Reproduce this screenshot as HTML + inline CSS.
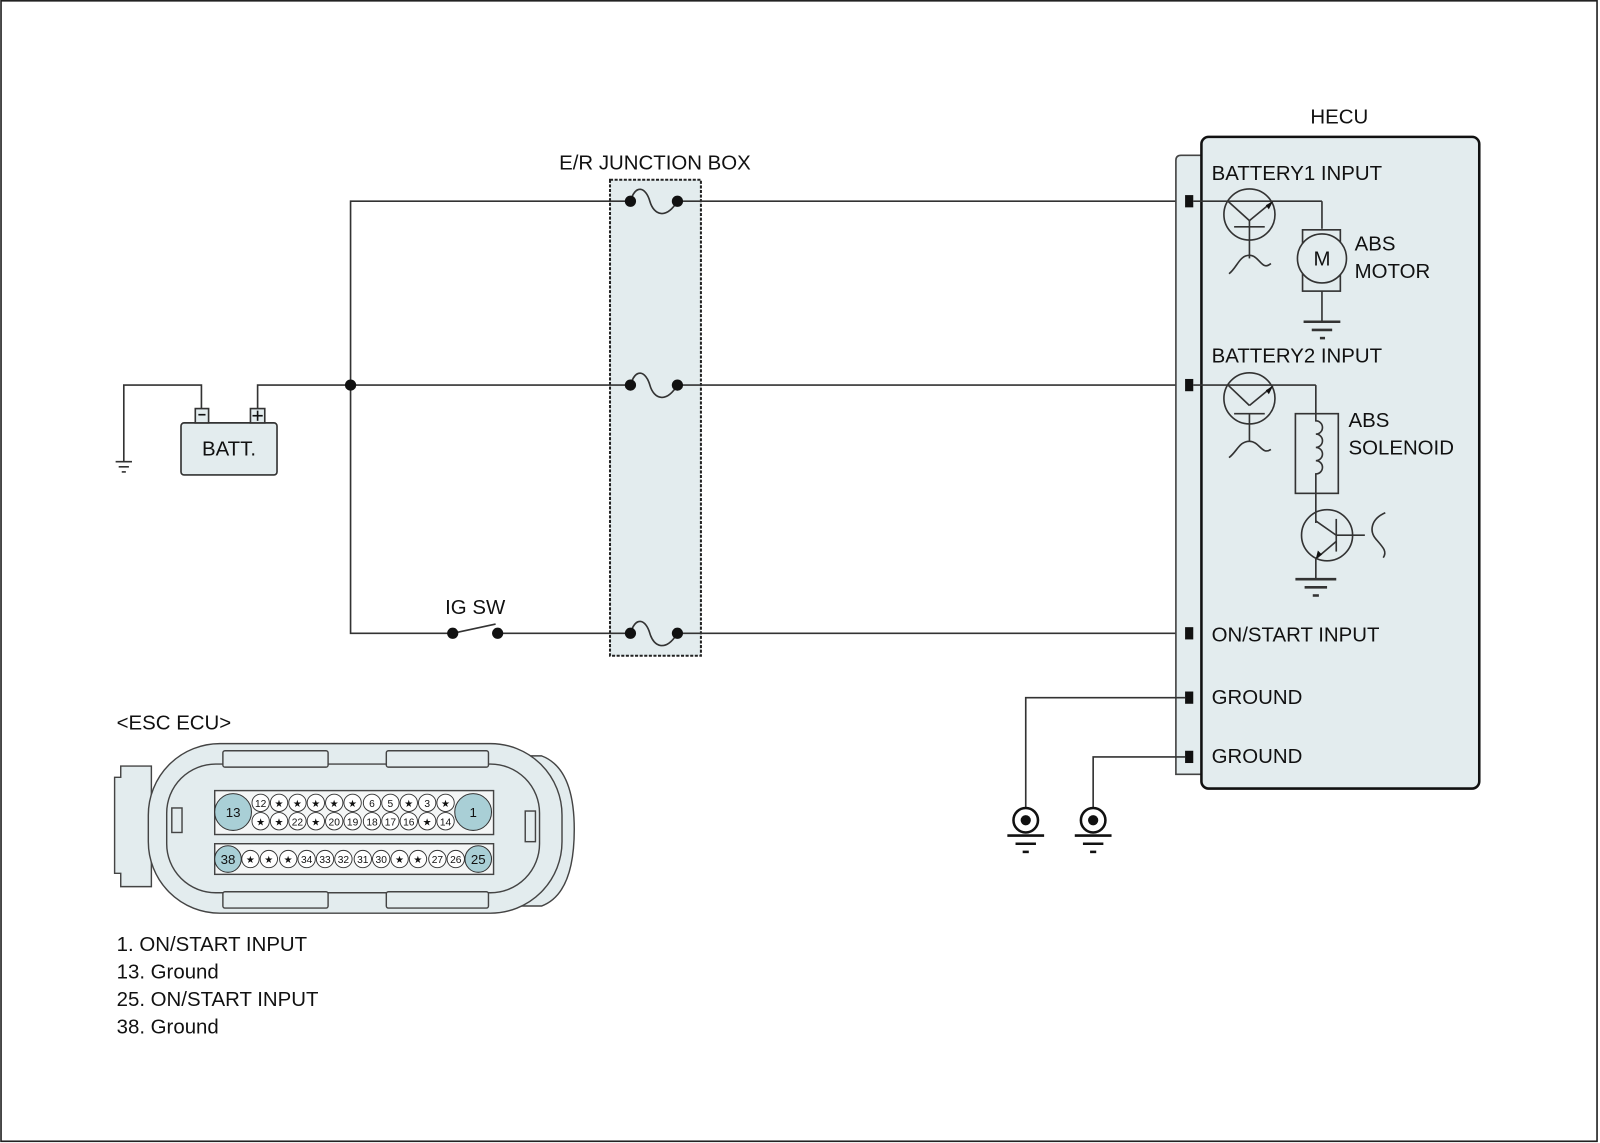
<!DOCTYPE html>
<html><head><meta charset="utf-8"><style>
html,body{margin:0;padding:0;background:#fff}
svg{display:block}
text{font-family:"Liberation Sans",Arial,sans-serif;fill:#111}
</style></head><body>
<svg width="1600" height="1143" viewBox="0 0 1566 1119" xmlns="http://www.w3.org/2000/svg">
<rect x="0.8" y="0.8" width="1562.5" height="1116.5" fill="#fff" stroke="#222" stroke-width="1.6"/>
<g stroke="#333" stroke-width="1.6" fill="none">
<rect x="597" y="176" width="89" height="466" fill="#e3ecee" stroke="#222" stroke-width="2" stroke-dasharray="3,1.5"/>
<polyline points="617,197 343,197 343,620 443,620"/>
<polyline points="197,400 197,377 121,377 121,452"/>
<polyline points="252,400 252,377 617,377"/>
<line x1="663" y1="197" x2="1160" y2="197"/>
<line x1="663" y1="377" x2="1160" y2="377"/>
<line x1="487" y1="620" x2="617" y2="620"/>
<line x1="663" y1="620" x2="1160" y2="620"/>
<line x1="443" y1="620" x2="485" y2="611"/>
<path d="M617,197 C622,180 632,183 636,197 S652,215 663,197"/>
<path d="M617,377 C622,360 632,363 636,377 S652,395 663,377"/>
<path d="M617,620 C622,603 632,606 636,620 S652,638 663,620"/>
<line x1="113" y1="452" x2="129" y2="452"/>
<line x1="116" y1="457" x2="126" y2="457"/>
<line x1="119" y1="462" x2="123" y2="462"/>
<rect x="177" y="414" width="94" height="51" rx="3" fill="#e3ecee" stroke="#333"/>
<rect x="191" y="400" width="13" height="14" fill="#e3ecee"/>
<rect x="245" y="400" width="14" height="14" fill="#e3ecee"/>
<path d="M1176,152 L1156,152 Q1151,152 1151,157 L1151,758 L1176,758" fill="#e3ecee" stroke="#444"/>
<rect x="1176" y="134" width="272" height="638" rx="7" fill="#e3ecee" stroke="#111" stroke-width="2.5"/>
<line x1="1168" y1="197" x2="1294" y2="197"/>
<line x1="1294" y1="197" x2="1294" y2="224"/>
<line x1="1168" y1="377" x2="1288" y2="377"/>
<circle cx="1223" cy="210" r="25"/>
<line x1="1202" y1="197" x2="1223" y2="216"/>
<line x1="1223" y1="216" x2="1246" y2="197"/>
<line x1="1208" y1="222" x2="1238" y2="222"/>
<line x1="1223" y1="216" x2="1223" y2="253"/>
<path d="M1203,268 C1211,262 1213,250 1223,250 S1235,266 1244,258"/>
<rect x="1275" y="225" width="37" height="60"/>
<circle cx="1294" cy="253" r="24" fill="#e3ecee"/>
<line x1="1294" y1="285" x2="1294" y2="315"/>
<line x1="1276" y1="315" x2="1312" y2="315" stroke-width="2.5"/>
<line x1="1284" y1="323" x2="1304" y2="323" stroke-width="2.5"/>
<line x1="1292" y1="331" x2="1297" y2="331" stroke-width="2.5"/>
<circle cx="1223" cy="390" r="25"/>
<line x1="1202" y1="377" x2="1223" y2="397"/>
<line x1="1223" y1="397" x2="1246" y2="378"/>
<line x1="1208" y1="405" x2="1238" y2="405"/>
<line x1="1223" y1="405" x2="1223" y2="432"/>
<path d="M1203,448 C1211,442 1213,432 1223,432 S1235,446 1244,440"/>
<rect x="1268" y="405" width="42" height="78"/>
<path d="M1288,377 L1288,412 a6.5,6.5 0 0 1 0,13 a6.5,6.5 0 0 1 0,13 a6.5,6.5 0 0 1 0,13 a6.5,6.5 0 0 1 0,13 L1288,512"/>
<circle cx="1299" cy="524" r="25"/>
<line x1="1288" y1="510" x2="1308" y2="524"/>
<line x1="1308" y1="508" x2="1308" y2="540"/>
<line x1="1308" y1="524" x2="1336" y2="524"/>
<line x1="1308" y1="530" x2="1288" y2="547"/>
<line x1="1288" y1="547" x2="1288" y2="567"/>
<line x1="1268" y1="567" x2="1308" y2="567" stroke-width="2.5"/>
<line x1="1277" y1="575" x2="1299" y2="575" stroke-width="2.5"/>
<line x1="1285" y1="583" x2="1291" y2="583" stroke-width="2.5"/>
<path d="M1356,502 C1342,508 1340,520 1347,528 S1358,540 1354,546"/>
<polyline points="1160,683 1004,683 1004,790"/>
<polyline points="1160,741 1070,741 1070,790"/>
<circle cx="1004" cy="803" r="12" stroke="#111" stroke-width="2.5" fill="#fff"/>
<circle cx="1070" cy="803" r="12" stroke="#111" stroke-width="2.5" fill="#fff"/>
<line x1="986" y1="818" x2="1022" y2="818" stroke="#111" stroke-width="2.5"/>
<line x1="994" y1="826" x2="1014" y2="826" stroke="#111" stroke-width="2.5"/>
<line x1="1001" y1="834" x2="1007" y2="834" stroke="#111" stroke-width="2.5"/>
<line x1="1052" y1="818" x2="1088" y2="818" stroke="#111" stroke-width="2.5"/>
<line x1="1060" y1="826" x2="1080" y2="826" stroke="#111" stroke-width="2.5"/>
<line x1="1067" y1="834" x2="1073" y2="834" stroke="#111" stroke-width="2.5"/>
</g>
<g fill="#111">
<circle cx="343" cy="377" r="5.5"/>
<circle cx="617" cy="197" r="5.5"/><circle cx="663" cy="197" r="5.5"/>
<circle cx="617" cy="377" r="5.5"/><circle cx="663" cy="377" r="5.5"/>
<circle cx="617" cy="620" r="5.5"/><circle cx="663" cy="620" r="5.5"/>
<circle cx="443" cy="620" r="5.5"/><circle cx="487" cy="620" r="5.5"/>
<rect x="1160" y="191" width="8" height="12"/>
<rect x="1160" y="371" width="8" height="12"/>
<rect x="1160" y="614" width="8" height="12"/>
<rect x="1160" y="677" width="8" height="12"/>
<rect x="1160" y="735" width="8" height="12"/>
<circle cx="1004" cy="803" r="5"/><circle cx="1070" cy="803" r="5"/>
<polygon points="1246,197 1239,201 1242,205"/>
<polygon points="1246,378 1239,382 1242,386"/>
<polygon points="1288,547 1290,539 1294,543"/>
</g>
<g stroke="#111" stroke-width="1.6">
<line x1="194" y1="406" x2="201" y2="406"/>
<line x1="247" y1="407" x2="257" y2="407"/><line x1="252" y1="402" x2="252" y2="412"/>
</g>
<text x="641" y="166" font-size="20" text-anchor="middle">E/R JUNCTION BOX</text>
<text x="1311" y="121" font-size="20" text-anchor="middle">HECU</text>
<text x="224" y="446" font-size="20" text-anchor="middle">BATT.</text>
<text x="465" y="601" font-size="20" text-anchor="middle">IG SW</text>
<text x="1294" y="260" font-size="20" text-anchor="middle">M</text>
<g font-size="20">
<text x="1186" y="176">BATTERY1 INPUT</text>
<text x="1186" y="355">BATTERY2 INPUT</text>
<text x="1186" y="628">ON/START INPUT</text>
<text x="1186" y="689">GROUND</text>
<text x="1186" y="747">GROUND</text>
<text x="1326" y="245">ABS</text><text x="1326" y="272">MOTOR</text>
<text x="1320" y="418">ABS</text><text x="1320" y="445">SOLENOID</text>
<text x="114" y="714">&lt;ESC ECU&gt;</text>
<text x="114" y="931">1. ON/START INPUT</text>
<text x="114" y="958">13. Ground</text>
<text x="114" y="985">25. ON/START INPUT</text>
<text x="114" y="1012">38. Ground</text>
</g>
<g stroke="#444" stroke-width="1.4" fill="#e3ecee">
<path d="M118,750 L148,750 L148,868 L118,868 L118,855 L112,855 L112,761 L118,761 Z"/>
<path d="M480,740 L530,740 Q562,752 562,812 Q562,875 530,887 L480,887 Z"/>
<rect x="145" y="728" width="405" height="166" rx="70"/>
<rect x="163" y="748" width="365" height="126" rx="48" fill="#e3ecee"/>
<rect x="218" y="735" width="103" height="16" rx="2"/>
<rect x="378" y="735" width="100" height="16" rx="2"/>
<rect x="218" y="873" width="103" height="16" rx="2"/>
<rect x="378" y="873" width="100" height="16" rx="2"/>
<rect x="210" y="774" width="273" height="43" fill="#f4f6f6"/>
<rect x="210" y="826" width="273" height="30" fill="#f4f6f6"/>
<rect x="168" y="791" width="10" height="24"/>
<rect x="514" y="794" width="10" height="30"/>
</g>
<g stroke="#333" stroke-width="1" fill="#fff">
<circle cx="228" cy="795" r="18" fill="#a9cfd6"/>
<circle cx="463" cy="795" r="18" fill="#a9cfd6"/>
<circle cx="223" cy="841" r="13" fill="#a9cfd6"/>
<circle cx="468" cy="841" r="13" fill="#a9cfd6"/>
</g>
<g font-size="13" text-anchor="middle">
<text x="228" y="800">13</text><text x="463" y="800">1</text>
<text x="223" y="846">38</text><text x="468" y="846">25</text>
</g>
<g stroke="#333" stroke-width="0.9" fill="#fff">
<circle cx="255" cy="786" r="8.5"/><circle cx="273" cy="786" r="8.5"/><circle cx="291" cy="786" r="8.5"/><circle cx="309" cy="786" r="8.5"/><circle cx="327" cy="786" r="8.5"/><circle cx="345" cy="786" r="8.5"/><circle cx="364" cy="786" r="8.5"/><circle cx="382" cy="786" r="8.5"/><circle cx="400" cy="786" r="8.5"/><circle cx="418" cy="786" r="8.5"/><circle cx="436" cy="786" r="8.5"/>
<circle cx="255" cy="804" r="8.5"/><circle cx="273" cy="804" r="8.5"/><circle cx="291" cy="804" r="8.5"/><circle cx="309" cy="804" r="8.5"/><circle cx="327" cy="804" r="8.5"/><circle cx="345" cy="804" r="8.5"/><circle cx="364" cy="804" r="8.5"/><circle cx="382" cy="804" r="8.5"/><circle cx="400" cy="804" r="8.5"/><circle cx="418" cy="804" r="8.5"/><circle cx="436" cy="804" r="8.5"/>
<circle cx="245" cy="841" r="8.5"/><circle cx="263" cy="841" r="8.5"/><circle cx="282" cy="841" r="8.5"/><circle cx="300" cy="841" r="8.5"/><circle cx="318" cy="841" r="8.5"/><circle cx="336" cy="841" r="8.5"/><circle cx="355" cy="841" r="8.5"/><circle cx="373" cy="841" r="8.5"/><circle cx="391" cy="841" r="8.5"/><circle cx="409" cy="841" r="8.5"/><circle cx="428" cy="841" r="8.5"/><circle cx="446" cy="841" r="8.5"/>
</g>
<g font-size="10" text-anchor="middle">
<text x="255" y="790">12</text><text x="273" y="790">★</text><text x="291" y="790">★</text><text x="309" y="790">★</text><text x="327" y="790">★</text><text x="345" y="790">★</text><text x="364" y="790">6</text><text x="382" y="790">5</text><text x="400" y="790">★</text><text x="418" y="790">3</text><text x="436" y="790">★</text>
<text x="255" y="808">★</text><text x="273" y="808">★</text><text x="291" y="808">22</text><text x="309" y="808">★</text><text x="327" y="808">20</text><text x="345" y="808">19</text><text x="364" y="808">18</text><text x="382" y="808">17</text><text x="400" y="808">16</text><text x="418" y="808">★</text><text x="436" y="808">14</text>
<text x="245" y="845">★</text><text x="263" y="845">★</text><text x="282" y="845">★</text><text x="300" y="845">34</text><text x="318" y="845">33</text><text x="336" y="845">32</text><text x="355" y="845">31</text><text x="373" y="845">30</text><text x="391" y="845">★</text><text x="409" y="845">★</text><text x="428" y="845">27</text><text x="446" y="845">26</text>
</g>
</svg>
</body></html>
